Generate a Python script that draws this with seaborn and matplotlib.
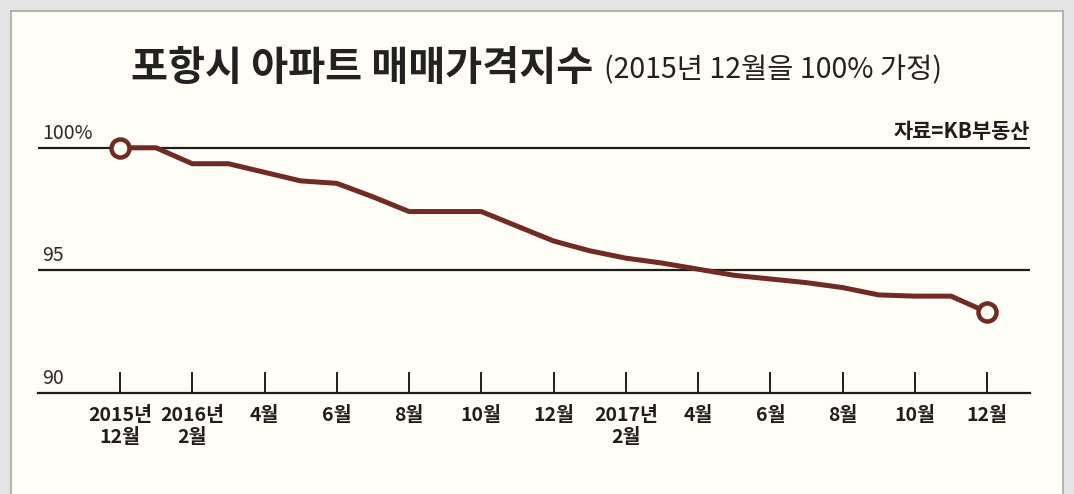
import pandas as pd
import matplotlib.pyplot as plt
import seaborn as sb
from matplotlib.patches import Rectangle

# 2015-12 .. 2017-12, monthly index (2015-12 = 100)
months = list(range(25))
index_values = [100.0, 100.0, 99.35, 99.35, 99.0, 98.65, 98.55, 98.0, 97.4, 97.4,
                97.4, 96.8, 96.2, 95.8, 95.5, 95.3, 95.05, 94.8, 94.65, 94.5,
                94.3, 94.0, 93.95, 93.95, 93.3]

tick_months = [0, 2, 4, 6, 8, 10, 12, 14, 16, 18, 20, 22, 24]
tick_labels = ['2015년\n12월', '2016년\n2월', '4월', '6월', '8월', '10월', '12월',
               '2017년\n2월', '4월', '6월', '8월', '10월', '12월']

y_lines = [100, 95]
y_labels = ['100%', '95', '90']
y_label_vals = [100, 95, 90]

df = pd.DataFrame({'month': months, 'value': index_values})

sb.set_style('white')
plt.rcParams['font.family'] = ['Noto Sans CJK KR', 'DejaVu Sans']

line_color = '#6f2b24'
ink = '#1e1e1e'

fig = plt.figure(figsize=(10.74, 4.94), dpi=100)
fig.patch.set_facecolor('#e3e3e3')
fig.patches.append(Rectangle((11 / 1074, -0.05), 1052 / 1074, 1 - 11 / 494 + 0.05,
                             transform=fig.transFigure, facecolor='#fffdf6',
                             edgecolor='#a8a8a8', linewidth=1.2, zorder=-5))

ax = fig.add_axes([38 / 1074, 101 / 494, 992 / 1074, 282 / 494])
ax.set_facecolor('none')
ax.set_zorder(2)

for v in y_lines:
    ax.axhline(v, color=ink, lw=1.6, zorder=1)

sb.lineplot(data=df, x='month', y='value', ax=ax, color=line_color, lw=3.6,
            marker='o', markevery=[0, len(months) - 1], markersize=13,
            markerfacecolor='#fffdf6', markeredgecolor=line_color,
            markeredgewidth=3.2, zorder=3)

ax.set_xlim(-2.27, 25.19)
ax.set_ylim(90, 101.5)

for s in ['top', 'right', 'left']:
    ax.spines[s].set_visible(False)
ax.spines['bottom'].set_color(ink)
ax.spines['bottom'].set_linewidth(1.6)

ax.set_xticks(tick_months)
ax.set_xticklabels(tick_labels, fontsize=14, fontweight='bold', color=ink,
                   linespacing=1.2)
ax.tick_params(axis='x', direction='in', length=15, width=1.4, color=ink, pad=9,
               bottom=True)
ax.set_yticks([])
ax.set_xlabel('')
ax.set_ylabel('')

for lab, v in zip(y_labels, y_label_vals):
    ax.annotate(lab, xy=(0, v), xycoords=('axes fraction', 'data'),
                xytext=(3, 3), textcoords='offset points', ha='left', va='bottom',
                fontsize=14, fontweight='medium', color='#2a2a2a')

ax.annotate('자료=KB부동산', xy=(1, 100), xycoords=('axes fraction', 'data'),
            xytext=(0, 4), textcoords='offset points', ha='right', va='bottom',
            fontsize=15, fontweight='bold', color=ink)

fig.text(593 / 1074, 1 - 80 / 494, '포항시 아파트 매매가격지수', ha='right',
         va='baseline', fontsize=29, fontweight='bold', color='#222222')
fig.text(604 / 1074, 1 - 78 / 494, '(2015년 12월을 100% 가정)', ha='left',
         va='baseline', fontsize=20.5, color='#222222')

plt.savefig('out.png', dpi=100, facecolor=fig.get_facecolor())
